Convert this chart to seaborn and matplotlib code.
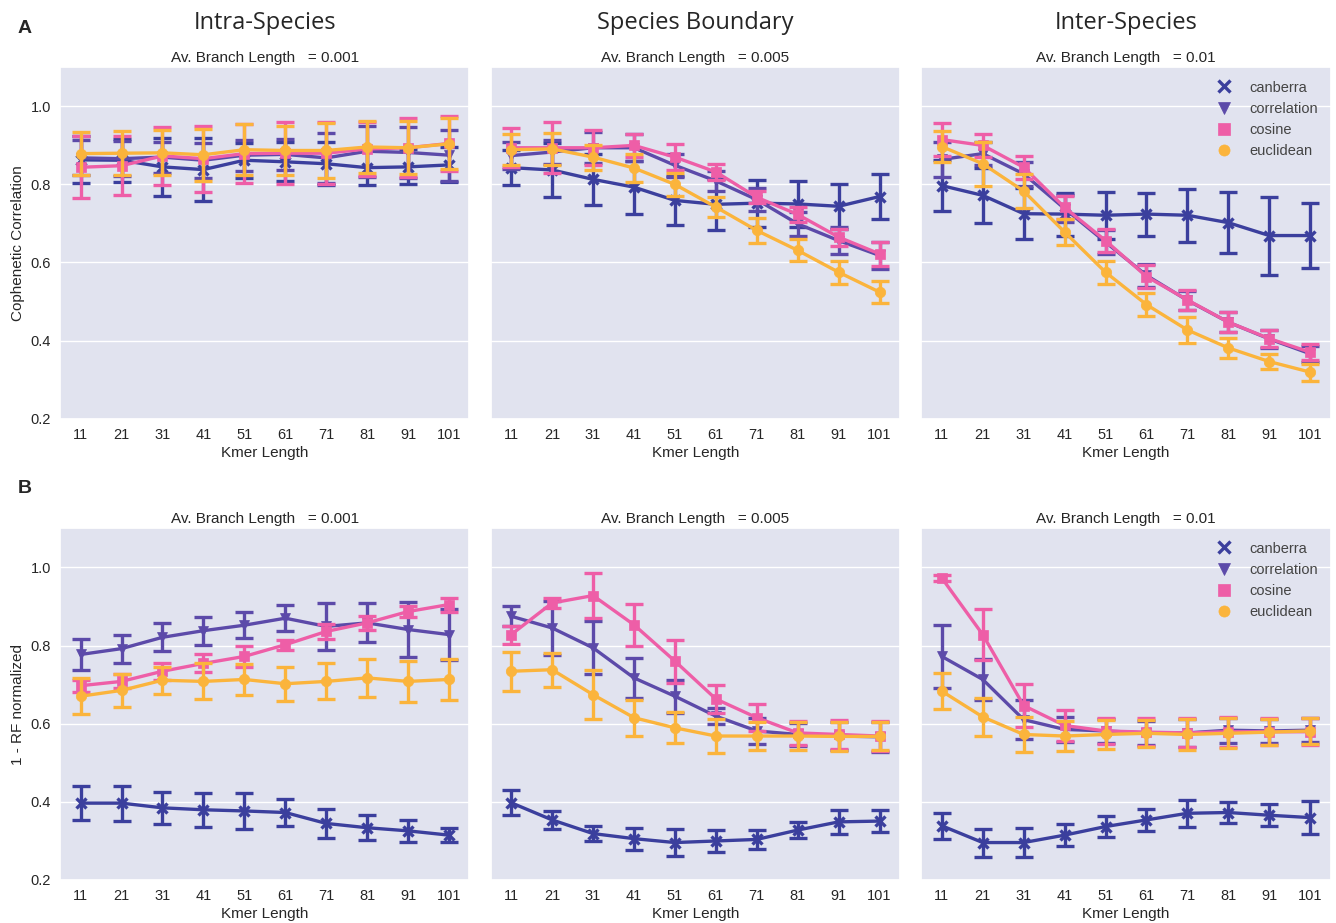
import pandas as pd
import numpy as np
import matplotlib
matplotlib.use("Agg")
import matplotlib.pyplot as plt
from matplotlib.lines import Line2D
import seaborn as sns

# =========================
# DATA
# =========================

kmers = ['11', '21', '31', '41', '51', '61', '71', '81', '91', '101']
metrics = ['canberra', 'correlation', 'cosine', 'euclidean']
columns = ['Intra-Species', 'Species Boundary', 'Inter-Species']
branch_lengths = ['0.001', '0.005', '0.01']

# rows = canberra, correlation, cosine, euclidean
coph_intra = [
    [0.863, 0.862, 0.845, 0.838, 0.862, 0.858, 0.853, 0.843, 0.845, 0.850],
    [0.868, 0.866, 0.870, 0.862, 0.875, 0.877, 0.868, 0.885, 0.882, 0.875],
    [0.844, 0.848, 0.873, 0.866, 0.879, 0.880, 0.880, 0.891, 0.894, 0.905],
    [0.879, 0.880, 0.881, 0.876, 0.889, 0.887, 0.887, 0.896, 0.894, 0.904],
]
coph_intra_err = [
    [0.060, 0.055, 0.075, 0.080, 0.045, 0.050, 0.055, 0.045, 0.045, 0.045],
    [0.045, 0.045, 0.040, 0.045, 0.040, 0.040, 0.065, 0.065, 0.065, 0.065],
    [0.080, 0.075, 0.075, 0.085, 0.075, 0.080, 0.080, 0.070, 0.075, 0.070],
    [0.056, 0.057, 0.058, 0.067, 0.066, 0.063, 0.070, 0.066, 0.068, 0.065],
]

coph_boundary = [
    [0.843, 0.837, 0.813, 0.793, 0.759, 0.749, 0.752, 0.750, 0.744, 0.769],
    [0.874, 0.883, 0.894, 0.894, 0.849, 0.809, 0.761, 0.699, 0.656, 0.618],
    [0.894, 0.894, 0.894, 0.900, 0.870, 0.832, 0.767, 0.723, 0.665, 0.622],
    [0.889, 0.891, 0.870, 0.842, 0.800, 0.742, 0.682, 0.631, 0.575, 0.524],
]
coph_boundary_err = [
    [0.045, 0.070, 0.065, 0.068, 0.062, 0.065, 0.060, 0.060, 0.058, 0.058],
    [0.035, 0.030, 0.040, 0.035, 0.030, 0.025, 0.030, 0.030, 0.035, 0.035],
    [0.050, 0.065, 0.045, 0.030, 0.033, 0.020, 0.015, 0.020, 0.022, 0.030],
    [0.040, 0.042, 0.032, 0.035, 0.030, 0.025, 0.032, 0.028, 0.030, 0.028],
]

coph_inter = [
    [0.797, 0.772, 0.725, 0.724, 0.721, 0.724, 0.721, 0.702, 0.669, 0.669],
    [0.864, 0.879, 0.827, 0.738, 0.652, 0.567, 0.503, 0.447, 0.404, 0.366],
    [0.915, 0.900, 0.844, 0.741, 0.656, 0.564, 0.504, 0.447, 0.405, 0.370],
    [0.897, 0.853, 0.783, 0.678, 0.575, 0.492, 0.427, 0.381, 0.346, 0.319],
]
coph_inter_err = [
    [0.065, 0.070, 0.065, 0.055, 0.060, 0.055, 0.068, 0.078, 0.100, 0.083],
    [0.045, 0.030, 0.030, 0.035, 0.030, 0.030, 0.025, 0.025, 0.022, 0.020],
    [0.043, 0.030, 0.030, 0.030, 0.030, 0.030, 0.025, 0.025, 0.022, 0.020],
    [0.040, 0.057, 0.043, 0.034, 0.030, 0.030, 0.033, 0.025, 0.020, 0.022],
]

rf_intra = [
    [0.396, 0.396, 0.384, 0.379, 0.376, 0.372, 0.344, 0.333, 0.325, 0.314],
    [0.777, 0.792, 0.821, 0.838, 0.852, 0.870, 0.849, 0.858, 0.841, 0.828],
    [0.697, 0.708, 0.734, 0.754, 0.772, 0.802, 0.836, 0.858, 0.887, 0.905],
    [0.670, 0.685, 0.711, 0.708, 0.713, 0.702, 0.708, 0.717, 0.708, 0.713],
]
rf_intra_err = [
    [0.044, 0.045, 0.041, 0.043, 0.045, 0.034, 0.037, 0.032, 0.029, 0.018],
    [0.040, 0.036, 0.036, 0.036, 0.034, 0.033, 0.061, 0.050, 0.070, 0.066],
    [0.015, 0.018, 0.022, 0.023, 0.026, 0.013, 0.019, 0.018, 0.015, 0.018],
    [0.046, 0.043, 0.034, 0.046, 0.040, 0.043, 0.046, 0.049, 0.053, 0.052],
]

rf_boundary = [
    [0.397, 0.353, 0.318, 0.305, 0.295, 0.299, 0.303, 0.327, 0.348, 0.350],
    [0.875, 0.845, 0.794, 0.717, 0.670, 0.619, 0.581, 0.572, 0.568, 0.566],
    [0.828, 0.909, 0.928, 0.853, 0.760, 0.663, 0.615, 0.576, 0.572, 0.568],
    [0.734, 0.738, 0.674, 0.615, 0.589, 0.568, 0.568, 0.568, 0.567, 0.567],
]
rf_boundary_err = [
    [0.032, 0.023, 0.020, 0.028, 0.035, 0.027, 0.024, 0.021, 0.031, 0.029],
    [0.025, 0.070, 0.068, 0.052, 0.042, 0.020, 0.034, 0.030, 0.035, 0.038],
    [0.023, 0.014, 0.057, 0.054, 0.055, 0.036, 0.034, 0.030, 0.038, 0.038],
    [0.050, 0.044, 0.063, 0.046, 0.040, 0.043, 0.036, 0.036, 0.038, 0.036],
]

rf_inter = [
    [0.338, 0.295, 0.295, 0.314, 0.336, 0.353, 0.370, 0.372, 0.365, 0.359],
    [0.772, 0.713, 0.610, 0.585, 0.581, 0.576, 0.576, 0.583, 0.581, 0.583],
    [0.973, 0.828, 0.646, 0.595, 0.581, 0.578, 0.576, 0.579, 0.579, 0.579],
    [0.683, 0.617, 0.572, 0.568, 0.572, 0.575, 0.572, 0.575, 0.578, 0.581],
]
rf_inter_err = [
    [0.034, 0.036, 0.037, 0.029, 0.028, 0.029, 0.035, 0.026, 0.028, 0.043],
    [0.080, 0.053, 0.050, 0.032, 0.030, 0.030, 0.035, 0.032, 0.030, 0.030],
    [0.008, 0.065, 0.055, 0.040, 0.033, 0.035, 0.037, 0.038, 0.035, 0.035],
    [0.046, 0.049, 0.046, 0.039, 0.036, 0.034, 0.040, 0.038, 0.034, 0.033],
]

# =========================
# STYLE
# =========================

colors = ['#3b3f9d', '#5c4aa9', '#ee5ea7', '#fbb43c']
markers = ['x', 'v', 's', 'o']

sns.set_theme(style='darkgrid', rc={'axes.facecolor': '#e1e3ef'})
plt.rcParams['font.family'] = ['Liberation Sans', 'DejaVu Sans']

fig, axes = plt.subplots(2, 3, figsize=(13.36, 9.23), dpi=100)
fig.subplots_adjust(left=0.045, right=0.996, top=0.927, bottom=0.047,
                    wspace=0.052, hspace=0.313)

panels = [
    [(coph_intra, coph_intra_err), (coph_boundary, coph_boundary_err),
     (coph_inter, coph_inter_err)],
    [(rf_intra, rf_intra_err), (rf_boundary, rf_boundary_err),
     (rf_inter, rf_inter_err)],
]
ylabels = ['Cophenetic Correlation', '1 - RF normalized']

for r in range(2):
    for c in range(3):
        ax = axes[r, c]
        means, errs = panels[r][c]
        for i, metric in enumerate(metrics):
            ax.errorbar(range(len(kmers)), means[i], yerr=errs[i], fmt='none',
                        ecolor=colors[i], elinewidth=2.4, capsize=6.5,
                        capthick=2.4)
            df = pd.DataFrame({'kmer': kmers, 'value': means[i]})
            sns.pointplot(data=df, x='kmer', y='value', order=kmers,
                          color=colors[i], markers=markers[i], errorbar=None,
                          linewidth=2.4, markersize=7.5,
                          markeredgewidth=2.4 if markers[i] == 'x' else 0.5,
                          ax=ax)
        ax.set_ylim(0.2, 1.1)
        ax.set_yticks([0.2, 0.4, 0.6, 0.8, 1.0])
        ax.set_xlim(-0.5, len(kmers) - 0.5)
        ax.set_xlabel('Kmer Length', fontsize=11, labelpad=3)
        ax.tick_params(axis='both', labelsize=10.5, pad=0.5)
        ax.set_title('Av. Branch Length   = ' + branch_lengths[c],
                     fontsize=11, pad=4)
        if c == 0:
            ax.set_ylabel(ylabels[r], fontsize=11, labelpad=4)
            ax.set_yticklabels(['0.2', '0.4', '0.6', '0.8', '1.0'])
        else:
            ax.set_ylabel('')
            ax.set_yticklabels([])
        if c == 2:
            handles = [Line2D([], [], linestyle='none', marker=markers[i],
                              color=colors[i], markersize=8,
                              markeredgewidth=2.4 if markers[i] == 'x' else 0.5)
                       for i in range(len(metrics))]
            leg = ax.legend(handles, metrics, loc='upper right', frameon=False,
                            fontsize=10.5, handletextpad=0.7,
                            labelspacing=0.5, borderaxespad=0.5)
            for t in leg.get_texts():
                t.set_color('#444444')

for c in range(3):
    pos = axes[0, c].get_position()
    fig.text((pos.x0 + pos.x1) / 2, 0.975, columns[c], ha='center',
             va='center', fontsize=17, family=['Open Sans', 'DejaVu Sans'])

fig.text(0.013, 0.969, 'A', fontsize=14, fontweight='bold', va='center')
fig.text(0.013, 0.471, 'B', fontsize=14, fontweight='bold', va='center')

plt.savefig('out.png', dpi=100)
plt.close()
